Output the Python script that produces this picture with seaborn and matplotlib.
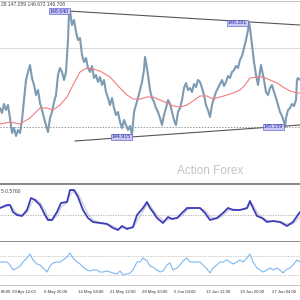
import numpy as np
import pandas as pd
import matplotlib
matplotlib.use("Agg")
import matplotlib.pyplot as plt
import seaborn as sns

# ---------------- data ----------------
price_bar = [0, 2, 4, 6, 8, 10, 12, 14, 16, 18, 20, 22, 24, 26, 28, 30, 32, 34, 36, 38,
             40, 42, 44, 46, 48, 50, 52, 54, 56, 58, 60, 62, 64, 66, 68, 69, 70, 72, 74, 76,
             78, 80, 82, 84, 86, 88, 90, 92, 94, 96, 98, 100, 102, 104, 106, 108, 110, 112, 114, 116,
             118, 120, 122, 124, 126, 128, 130, 132, 134, 136, 138, 140, 142, 144, 145, 146, 148, 150, 152, 154,
             156, 158, 160, 162, 164, 166, 168, 170, 172, 174, 176, 178, 180, 182, 184, 186, 188, 190, 192, 194,
             196, 198, 200, 202, 204, 206, 208, 210, 212, 214, 216, 218, 220, 222, 224, 226, 228, 230, 232, 234,
             236, 238, 240, 242, 244, 246, 248, 249, 250, 252, 254, 256, 258, 260, 261, 262, 264, 266, 268, 270,
             272, 274, 276, 278, 280, 282, 284, 285, 286, 288, 290, 292, 294, 296, 297, 298, 300]
price = [145.73, 145.58, 145.85, 145.67, 145.82, 145.43, 144.98, 145.13, 144.89, 145.07,
         144.98, 145.37, 145.97, 146.57, 146.81, 147.02, 146.63, 146.42, 146.12, 146.27,
         145.88, 145.67, 145.43, 145.22, 145.01, 145.43, 145.61, 145.91, 146.12, 146.72,
         146.93, 146.81, 146.57, 146.81, 147.77, 148.52, 148.64, 148.22, 148.37, 148.01,
         147.77, 147.83, 147.32, 147.11, 147.23, 146.93, 146.81, 146.99, 146.63, 146.72,
         146.51, 146.66, 146.42, 146.57, 146.21, 146.03, 145.82, 146.03, 145.73, 145.52,
         145.61, 145.31, 145.13, 145.37, 145.22, 145.07, 145.19, 144.92, 145.61, 145.82,
         146.03, 146.27, 146.51, 146.87, 147.26, 147.11, 146.72, 146.27, 146.03, 145.91,
         145.73, 145.61, 145.43, 145.22, 145.52, 145.73, 145.97, 145.85, 145.61, 145.37,
         145.22, 145.61, 145.73, 145.97, 146.33, 146.48, 146.27, 146.33, 146.21, 146.45,
         146.36, 146.57, 146.51, 146.33, 146.12, 145.82, 145.67, 145.46, 145.82, 146.03,
         146.21, 146.33, 146.45, 146.57, 146.39, 146.51, 146.69, 146.63, 146.81, 146.87,
         146.99, 146.93, 147.17, 147.29, 147.53, 147.77, 148.07, 148.28, 148.13, 147.62,
         147.11, 146.72, 146.42, 146.81, 147.02, 146.87, 146.57, 146.21, 146.12, 146.33,
         146.42, 146.21, 146.03, 145.82, 145.61, 145.49, 145.31, 145.16, 145.43, 145.67,
         145.73, 145.85, 145.79, 145.97, 146.57, 146.63, 146.57]

ma_bar = [0, 10, 20, 30, 40, 47, 53, 60, 67, 73, 80, 87, 93, 100, 110, 120, 127, 133, 140, 147,
          153, 160, 167, 173, 180, 187, 193, 200, 207, 213, 220, 227, 233, 240, 245, 250, 257, 263, 270, 277,
          283, 290, 297, 300]
ma = [145.25, 145.31, 145.25, 145.43, 145.73, 145.73, 145.67, 145.82, 146.06, 146.42,
      146.81, 146.93, 146.90, 146.84, 146.66, 146.33, 146.12, 146.00, 146.00, 146.06,
      146.06, 145.97, 145.88, 145.79, 145.76, 145.82, 145.94, 146.09, 146.09, 146.00,
      146.06, 146.12, 146.18, 146.27, 146.42, 146.63, 146.66, 146.66, 146.57, 146.48,
      146.36, 146.24, 146.18, 146.18]

resist_bar = [68, 300]
resist = [148.64, 148.22]
support_bar = [75, 300]
support = [144.74, 145.22]
level_solid = 147.53
level_dotted = 145.16

peak_labels = ["148.640", "148.281", "144.915", "145.159"]
peak_bar = [69, 247, 131, 283]
peak_price = [148.64, 148.28, 144.86, 145.16]

osc_bar = [0, 7, 10, 13, 17, 22, 27, 31, 35, 40, 45, 48, 52, 57, 61, 67, 70, 74, 78, 83,
           88, 93, 100, 107, 113, 118, 122, 127, 133, 137, 143, 147, 150, 153, 157, 163, 168, 172, 177, 183,
           187, 193, 200, 205, 210, 217, 223, 228, 233, 240, 247, 250, 253, 257, 262, 267, 273, 280, 287, 293,
           300]
osc = [0.14, 0.20, 0.20, 0.06, 0.00, -0.02, 0.10, 0.34, 0.30, 0.20,
       0.00, -0.10, -0.10, 0.06, 0.24, 0.26, 0.50, 0.50, 0.36, 0.10,
       -0.06, -0.14, -0.16, -0.18, -0.26, -0.30, -0.22, -0.28, -0.24, 0.00,
       0.14, 0.26, 0.14, 0.06, -0.06, -0.16, -0.04, -0.08, -0.06, 0.06,
       0.14, 0.14, 0.14, 0.04, -0.10, -0.06, 0.04, 0.14, 0.10, 0.10,
       0.14, 0.28, 0.14, -0.02, -0.06, -0.14, -0.12, -0.14, -0.22, -0.14,
       0.06]

rsi_bar = [0, 7, 10, 13, 17, 20, 23, 27, 30, 33, 37, 40, 43, 47, 50, 53, 57, 60, 63, 67,
           70, 73, 77, 80, 83, 87, 90, 93, 97, 100, 103, 107, 110, 113, 117, 120, 123, 127, 130, 133,
           137, 140, 143, 147, 150, 153, 157, 160, 163, 167, 170, 173, 177, 180, 183, 187, 190, 193, 197, 200,
           203, 207, 210, 213, 217, 220, 223, 227, 230, 233, 237, 240, 243, 247, 250, 253, 257, 260, 263, 267,
           270, 273, 277, 280, 283, 287, 290, 293, 297, 300]
rsi = [57.4, 57.4, 51.1, 40.5, 44.7, 48.9, 57.4, 65.8, 74.2, 61.6,
       53.2, 51.1, 44.7, 36.3, 48.9, 55.3, 57.4, 57.4, 61.6, 67.9,
       76.3, 65.8, 57.4, 53.2, 46.8, 40.5, 38.4, 40.5, 40.5, 36.3,
       36.3, 38.4, 36.3, 34.2, 32.1, 38.4, 30.0, 32.1, 34.2, 40.5,
       57.4, 57.4, 65.8, 59.5, 48.9, 46.8, 40.5, 36.3, 38.4, 51.1,
       55.3, 40.5, 44.7, 51.1, 59.5, 65.8, 57.4, 57.4, 57.4, 57.4,
       51.1, 42.6, 34.2, 44.7, 51.1, 57.4, 57.4, 61.6, 57.4, 53.2,
       57.4, 61.6, 57.4, 65.8, 74.2, 57.4, 44.7, 40.5, 36.3, 40.5,
       44.7, 40.5, 44.7, 40.5, 34.2, 42.6, 44.7, 51.1, 61.6, 57.4]

tick_bar = [0, 12, 44, 77, 109, 142, 174, 206, 239, 271]
tick_labels = ["04:00", "29 Apr 12:00", "6 May 20:00", "14 May 04:00", "21 May 12:00",
               "28 May 20:00", "5 Jun 04:00", "12 Jun 12:00", "19 Jun 20:00", "27 Jun 04:00"]
header = "28 147.059 146.672 146.708"
osc_label = "5 0.5760"

assert len(price_bar) == len(price)
assert len(ma_bar) == len(ma)
assert len(osc_bar) == len(osc)
assert len(rsi_bar) == len(rsi)

# ---------------- figure ----------------
sns.set_style("white")
plt.rcParams['font.family'] = ['Liberation Sans', 'DejaVu Sans']

fig = plt.figure(figsize=(3, 3), dpi=100)
H = 300.0
ax = fig.add_axes([0, 1 - 184 / H, 1, 183 / H])
ax2 = fig.add_axes([0, 1 - 242 / H, 1, 58 / H])
ax3 = fig.add_axes([0, 1 - 285 / H, 1, 43 / H])

for a in (ax, ax2, ax3):
    a.set_xlim(0, 300)
    a.set_xticks([])
    a.set_yticks([])
    for s in ("left", "right"):
        a.spines[s].set_visible(False)

# main price panel
ax.set_ylim(143.45, 148.94)
ax.spines["top"].set_color("#bbbbbb")
ax.spines["top"].set_linewidth(0.6)
ax.spines["bottom"].set_color("#888888")
ax.spines["bottom"].set_linewidth(1.4)
ax.axhline(level_solid, color="#d9d9d9", lw=0.7, zorder=1)
ax.axhline(level_dotted, color="#999999", lw=0.7, ls=(0, (1.5, 1.5)), zorder=1)

df_p = pd.DataFrame({"bar": price_bar, "price": price})
sns.lineplot(data=df_p, x="bar", y="price", ax=ax, color="#7d9bb3", lw=1.5, zorder=3)
df_m = pd.DataFrame({"bar": ma_bar, "ma": ma})
sns.lineplot(data=df_m, x="bar", y="ma", ax=ax, color="#f27c7c", lw=0.8, zorder=4)
ax.plot(resist_bar, resist, color="#555555", lw=0.8, zorder=5)
ax.plot(support_bar, support, color="#555555", lw=0.8, zorder=5)

for lab, b, p in zip(peak_labels, peak_bar, peak_price):
    ax.text(b, p, lab, ha="right", va="center", fontsize=3.8, color="#2a2aa0", zorder=6,
            bbox=dict(boxstyle="square,pad=0.15", fc="#c9c9f2", ec="#6a6ad0", lw=0.5))

ax.text(1, 148.82, header, ha="left", va="center", fontsize=3.6, color="#444444")
ax.text(210, 143.84, "Action Forex", ha="center", va="center", fontsize=8.5, color="#c4c4c4")
ax.set_xlabel(""); ax.set_ylabel("")

# oscillator panel
ax2.set_ylim(-0.54, 0.62)
ax2.spines["top"].set_color("#888888")
ax2.spines["top"].set_linewidth(1.4)
ax2.spines["bottom"].set_color("#888888")
ax2.spines["bottom"].set_linewidth(1.4)
ax2.axhline(0, color="#aaaaaa", lw=0.6, ls=(0, (1.5, 1.5)))
df_o = pd.DataFrame({"bar": osc_bar, "osc": osc})
df_o["signal"] = df_o["osc"].rolling(2, min_periods=1).mean()
sns.lineplot(data=df_o, x="bar", y="signal", ax=ax2, color="#cfcfcf", lw=0.9)
sns.lineplot(data=df_o, x="bar", y="osc", ax=ax2, color="#3b3bbd", lw=1.3)
ax2.text(1, 0.47, osc_label, ha="left", va="center", fontsize=3.6, color="#444444")
ax2.set_xlabel(""); ax2.set_ylabel("")

# rsi panel
ax3.set_ylim(8.9, 99.5)
ax3.spines["top"].set_visible(False)
ax3.spines["bottom"].set_color("#bbbbbb")
ax3.spines["bottom"].set_linewidth(0.6)
ax3.axhline(70, color="#bbbbbb", lw=0.6, ls=(0, (1.5, 1.5)))
ax3.axhline(30, color="#bbbbbb", lw=0.6, ls=(0, (1.5, 1.5)))
df_r = pd.DataFrame({"bar": rsi_bar, "rsi": rsi})
sns.lineplot(data=df_r, x="bar", y="rsi", ax=ax3, color="#7db8f2", lw=0.8)
ax3.set_xlabel(""); ax3.set_ylabel("")

for b, lab in zip(tick_bar, tick_labels):
    ax3.text(b + 0.5, -0.16, lab, transform=ax3.get_xaxis_transform(), ha="left", va="center",
             fontsize=3.1, color="#333333", clip_on=False)

fig.savefig("out.png", dpi=100)
